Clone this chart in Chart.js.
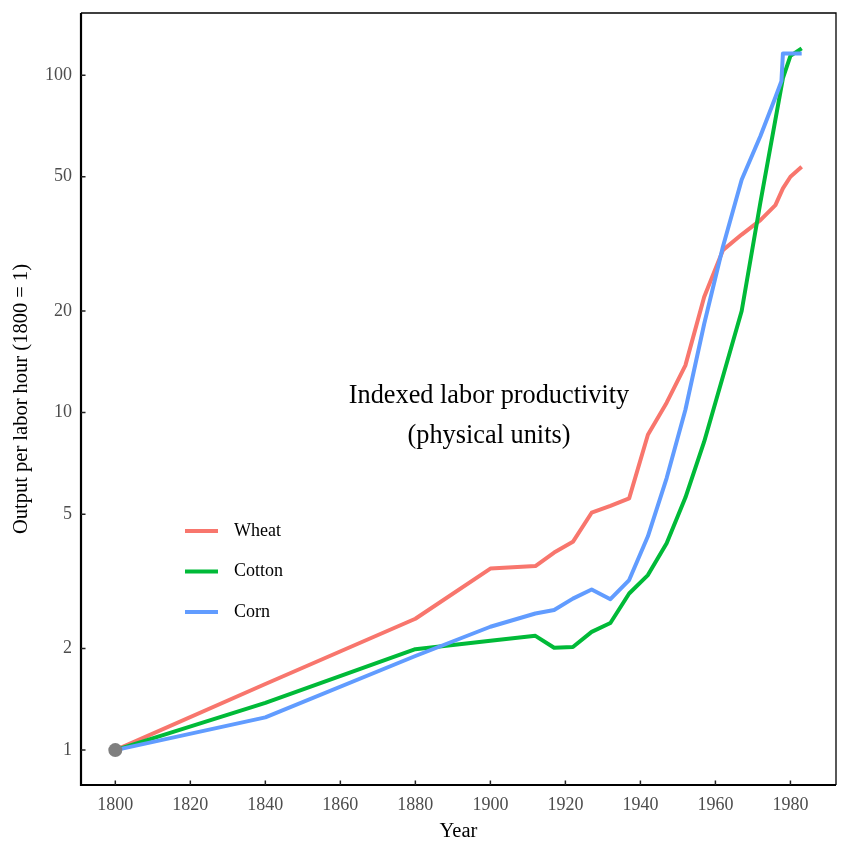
<!DOCTYPE html>
<html><head><meta charset="utf-8">
<script src="https://cdn.jsdelivr.net/npm/chart.js@4.4.1/dist/chart.umd.min.js"></script>
<style>html,body{margin:0;padding:0;background:#fff;}canvas{display:block;}</style>
</head><body>
<canvas id="c" width="850" height="850" style="width:850px;height:850px"></canvas>
<script>
// ---- data ----
const seriesNames = ['Wheat', 'Cotton', 'Corn'];
const seriesColors = ['#F8766D', '#00BA38', '#619CFF'];

const wheatYears  = [1800, 1840, 1880, 1900, 1912, 1917, 1922, 1927, 1932, 1937, 1942, 1947, 1952, 1957, 1962, 1967, 1972, 1976, 1978, 1980, 1983];
const wheatValues = [1, 1.57, 2.45, 3.45, 3.51, 3.85, 4.14, 5.05, 5.29, 5.57, 8.6, 10.7, 13.8, 22, 30.3, 33.7, 37.2, 41.2, 46.2, 50, 53.5];

const cottonYears  = [1800, 1840, 1880, 1900, 1912, 1917, 1922, 1927, 1932, 1937, 1942, 1947, 1952, 1957, 1962, 1967, 1972, 1978, 1980, 1983];
const cottonValues = [1, 1.38, 1.99, 2.11, 2.18, 2.01, 2.02, 2.24, 2.38, 2.91, 3.30, 4.10, 5.6, 8.2, 12.8, 20, 42, 98, 114, 120];

const cornYears  = [1800, 1840, 1880, 1900, 1912, 1917, 1922, 1927, 1932, 1937, 1942, 1947, 1952, 1957, 1962, 1967, 1972, 1976, 1977.6, 1978, 1983];
const cornValues = [1, 1.25, 1.9, 2.32, 2.54, 2.60, 2.81, 2.99, 2.80, 3.19, 4.3, 6.4, 10.2, 18.3, 31, 49, 66, 86, 96, 116, 116];

const originYear = [1800];
const originValue = [1];

const xTickValues = [1800, 1820, 1840, 1860, 1880, 1900, 1920, 1940, 1960, 1980];
const yTickValues = [1, 2, 5, 10, 20, 50, 100];
const yTickLabels = ['1', '2', '5', '10', '20', '50', '100'];

const xTitle = 'Year';
const yTitle = 'Output per labor hour (1800 = 1)';
const annotationLines = ['Indexed labor productivity', '(physical units)'];

// ---- build ----
const FONT = "'Liberation Serif', 'Times New Roman', serif";
const toPoints = (xs, ys) => xs.map((x, i) => ({x: x, y: ys[i]}));
const seriesYears = [wheatYears, cottonYears, cornYears];
const seriesValues = [wheatValues, cottonValues, cornValues];

const datasets = seriesNames.map((name, i) => ({
  label: name,
  data: toPoints(seriesYears[i], seriesValues[i]),
  borderColor: seriesColors[i],
  backgroundColor: seriesColors[i],
  borderWidth: 4,
  pointRadius: 0,
  tension: 0,
  borderJoinStyle: 'round',
  borderCapStyle: 'butt',
  fill: false,
  order: 3 - i
}));
datasets.push({
  label: 'origin',
  data: toPoints(originYear, originValue),
  showLine: false,
  pointRadius: 7,
  pointBackgroundColor: '#7F7F7F',
  pointBorderWidth: 0,
  order: 0
});

const decor = {
  id: 'decor',
  afterDraw(chart) {
    const ctx = chart.ctx;
    const a = chart.chartArea;
    const xs = chart.scales.x, ys = chart.scales.y;
    ctx.save();
    // frame
    ctx.strokeStyle = '#000';
    ctx.lineWidth = 1.3;
    ctx.beginPath();
    ctx.moveTo(a.left, a.top); ctx.lineTo(a.right, a.top); ctx.lineTo(a.right, a.bottom);
    ctx.stroke();
    ctx.lineWidth = 2.2;
    ctx.beginPath();
    ctx.moveTo(a.left, a.top); ctx.lineTo(a.left, a.bottom); ctx.lineTo(a.right, a.bottom);
    ctx.stroke();
    // inward ticks
    ctx.lineWidth = 1.5;
    ctx.strokeStyle = '#222';
    ctx.beginPath();
    xTickValues.forEach(v => {
      const p = xs.getPixelForValue(v);
      ctx.moveTo(p, a.bottom); ctx.lineTo(p, a.bottom - 4.5);
    });
    yTickValues.forEach(v => {
      const p = ys.getPixelForValue(v);
      ctx.moveTo(a.left, p); ctx.lineTo(a.left + 4.5, p);
    });
    ctx.stroke();
    // legend
    const lg = {x: 185, y: 531, len: 33, gap: 40.5, textX: 234};
    seriesNames.forEach((name, i) => {
      const y = lg.y + i * lg.gap;
      ctx.strokeStyle = seriesColors[i];
      ctx.lineWidth = 4;
      ctx.lineCap = 'butt';
      ctx.beginPath();
      ctx.moveTo(lg.x, y); ctx.lineTo(lg.x + lg.len, y);
      ctx.stroke();
      ctx.fillStyle = '#000';
      ctx.font = '18px ' + FONT;
      ctx.textAlign = 'left';
      ctx.textBaseline = 'middle';
      ctx.fillText(name, lg.textX, y);
    });
    // annotation
    ctx.fillStyle = '#000';
    ctx.font = '26.3px ' + FONT;
    ctx.textAlign = 'center';
    ctx.textBaseline = 'middle';
    annotationLines.forEach((t, i) => ctx.fillText(t, 489, 396 + i * 40));
    ctx.restore();
  }
};

new Chart(document.getElementById('c'), {
  type: 'line',
  data: {datasets: datasets},
  options: {
    responsive: false,
    animation: false,
    devicePixelRatio: 1,
    layout: {padding: {left: 0, right: 14, top: 13, bottom: 0}},
    plugins: {legend: {display: false}, tooltip: {enabled: false}},
    scales: {
      x: {
        type: 'linear', bounds: 'data', min: 1790.85, max: 1992.15,
        afterBuildTicks: s => { s.ticks = xTickValues.map(v => ({value: v})); },
        afterFit: s => { s.height = 65; s.paddingLeft = 0; s.paddingRight = 0; },
        grid: {display: false, drawTicks: false},
        border: {display: false},
        ticks: {padding: 9, color: '#4D4D4D', font: {family: FONT, size: 18}, maxRotation: 0, autoSkip: false,
                callback: v => String(v)},
        title: {display: true, text: xTitle, color: '#000', font: {family: FONT, size: 20.5}, padding: {top: 0, bottom: 6}}
      },
      y: {
        type: 'logarithmic', bounds: 'data', min: 0.788, max: 152.8,
        afterBuildTicks: s => { s.ticks = yTickValues.map(v => ({value: v})); },
        afterFit: s => { s.width = 81; s.paddingTop = 0; s.paddingBottom = 0; },
        grid: {display: false, drawTicks: false},
        border: {display: false},
        ticks: {padding: 9, color: '#4D4D4D', font: {family: FONT, size: 18}, autoSkip: false,
                callback: (v, i) => yTickLabels[i]},
        title: {display: true, text: yTitle, color: '#000', font: {family: FONT, size: 20.5}, padding: {top: 9, bottom: 0}}
      }
    }
  },
  plugins: [decor]
});
</script>
</body></html>
